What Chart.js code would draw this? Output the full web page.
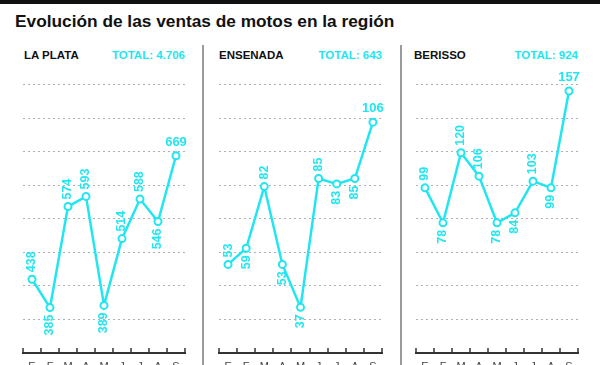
<!DOCTYPE html>
<html>
<head>
<meta charset="utf-8">
<script src="https://cdn.jsdelivr.net/npm/chart.js@4.4.0/dist/chart.umd.min.js"></script>
<style>
  html, body { margin: 0; padding: 0; background: #fff; }
  body { width: 600px; height: 365px; position: relative; overflow: hidden; font-family: "Liberation Sans", Arial, sans-serif; }
  .topbar { position: absolute; left: 0; top: 0; width: 600px; height: 4px; background: #111; }
  h1 { position: absolute; left: 15px; top: 11px; margin: 0; font-size: 17.3px; font-weight: bold; color: #111; }
  .head { position: absolute; top: 49px; font-size: 11.5px; font-weight: bold; color: #111; }
  .total { position: absolute; top: 49px; font-size: 11.5px; font-weight: bold; color: #22e6ef; text-align: right; }
  .sep { position: absolute; top: 45px; width: 1.5px; height: 330px; background: #9a9a9a; }
  .box { position: absolute; top: 40px; width: 200px; height: 340px; }
</style>
</head>
<body>
<div class="topbar"></div>
<h1>Evolución de las ventas de motos en la región</h1>

<div class="head" style="left:24px">LA PLATA</div>
<div class="total" style="left:100px;width:85px">TOTAL: 4.706</div>
<div class="head" style="left:219px">ENSENADA</div>
<div class="total" style="left:297px;width:85px">TOTAL: 643</div>
<div class="head" style="left:414px">BERISSO</div>
<div class="total" style="left:493px;width:85px">TOTAL: 924</div>

<div class="sep" style="left:202px"></div>
<div class="sep" style="left:400px"></div>

<div class="box" style="left:0"><canvas id="c1"></canvas></div>
<div class="box" style="left:200px"><canvas id="c2"></canvas></div>
<div class="box" style="left:400px"><canvas id="c3"></canvas></div>

<script>
// meses (enero a septiembre)
const months = ['E', 'F', 'M', 'A', 'M', 'J', 'J', 'A', 'S'];

const laPlata = [438, 385, 574, 593, 389, 514, 588, 546, 669];
const ensenada = [53, 59, 82, 53, 37, 85, 83, 85, 106];
const berisso = [99, 78, 120, 106, 78, 84, 103, 99, 157];

// donde va cada etiqueta: u = arriba, d = abajo, t = horizontal arriba
const sidesLaPlata = ['u', 'd', 'u', 'u', 'd', 'u', 'u', 'd', 't'];
const sidesEnsenada = ['u', 'd', 'u', 'd', 'd', 'u', 'd', 'd', 't'];
const sidesBerisso = ['u', 'd', 'u', 'u', 'd', 'd', 'u', 'd', 't'];

const cyan = '#22e6ef';

const valueLabels = {
  id: 'valueLabels',
  afterDatasetsDraw(chart, args, opts) {
    const ctx = chart.ctx;
    const meta = chart.getDatasetMeta(0);
    const vals = chart.data.datasets[0].data;
    ctx.save();
    ctx.fillStyle = cyan;
    meta.data.forEach((pt, i) => {
      const side = opts.sides[i];
      const txt = String(vals[i]);
      if (side === 't') {
        ctx.font = 'bold 13px "Liberation Sans", Arial';
        ctx.textAlign = 'center';
        ctx.textBaseline = 'bottom';
        ctx.fillText(txt, pt.x, pt.y - 7);
        return;
      }
      ctx.save();
      ctx.translate(pt.x, pt.y);
      ctx.rotate(-Math.PI / 2);
      ctx.font = 'bold 12.5px "Liberation Sans", Arial';
      ctx.textBaseline = 'middle';
      if (side === 'u') {
        ctx.textAlign = 'left';
        ctx.fillText(txt, 7, 0);
      } else {
        ctx.textAlign = 'right';
        ctx.fillText(txt, -7, 0);
      }
      ctx.restore();
    });
    ctx.restore();
  }
};

// marcas del eje x hacia arriba
const upTicks = {
  id: 'upTicks',
  afterDraw(chart) {
    const xs = chart.scales.x;
    const ctx = chart.ctx;
    const n = chart.data.labels.length;
    ctx.save();
    ctx.strokeStyle = '#333';
    ctx.lineWidth = 1.5;
    for (let i = 0; i <= n; i++) {
      const x = Math.round(xs.getPixelForValue(i - 0.5));
      ctx.beginPath();
      ctx.moveTo(x, xs.top);
      ctx.lineTo(x, xs.top - 5);
      ctx.stroke();
    }
    ctx.restore();
  }
};

function makeChart(id, values, sides, yMin, yMax, padL, padR) {
  new Chart(document.getElementById(id), {
    type: 'line',
    data: {
      labels: months,
      datasets: [{
        data: values,
        borderColor: cyan,
        borderWidth: 2.5,
        pointRadius: 3.5,
        pointBorderWidth: 2,
        pointBackgroundColor: '#fff',
        pointBorderColor: cyan,
        tension: 0,
        fill: false
      }]
    },
    options: {
      responsive: true,
      maintainAspectRatio: false,
      animation: false,
      layout: { padding: { left: padL, right: padR, top: 11, bottom: 0 } },
      plugins: {
        legend: { display: false },
        tooltip: { enabled: false },
        valueLabels: { sides: sides }
      },
      scales: {
        x: {
          offset: true,
          afterFit: (scale) => { scale.height = 27; },
          grid: { display: true, drawOnChartArea: false, drawTicks: false },
          border: { display: true, color: '#333', width: 2 },
          ticks: { color: '#444', padding: 7, font: { family: '"Liberation Sans", Arial', size: 11 } }
        },
        y: {
          min: yMin,
          max: yMax,
          afterFit: (scale) => { scale.width = 0; },
          ticks: { display: false, count: 10 },
          border: { display: false, dash: [2, 3] },
          grid: {
            drawTicks: false,
            color: (c) => (c.index === 0 || c.index === 9) ? 'rgba(0,0,0,0)' : '#b0b0b0',
            lineWidth: 1
          }
        }
      }
    },
    plugins: [valueLabels, upTicks]
  });
}

makeChart('c1', laPlata, sidesLaPlata, 300, 865, 23, 15);
makeChart('c2', ensenada, sidesEnsenada, 20, 132.5, 19, 18);
makeChart('c3', berisso, sidesBerisso, 0, 181, 16, 22);
</script>
</body>
</html>
